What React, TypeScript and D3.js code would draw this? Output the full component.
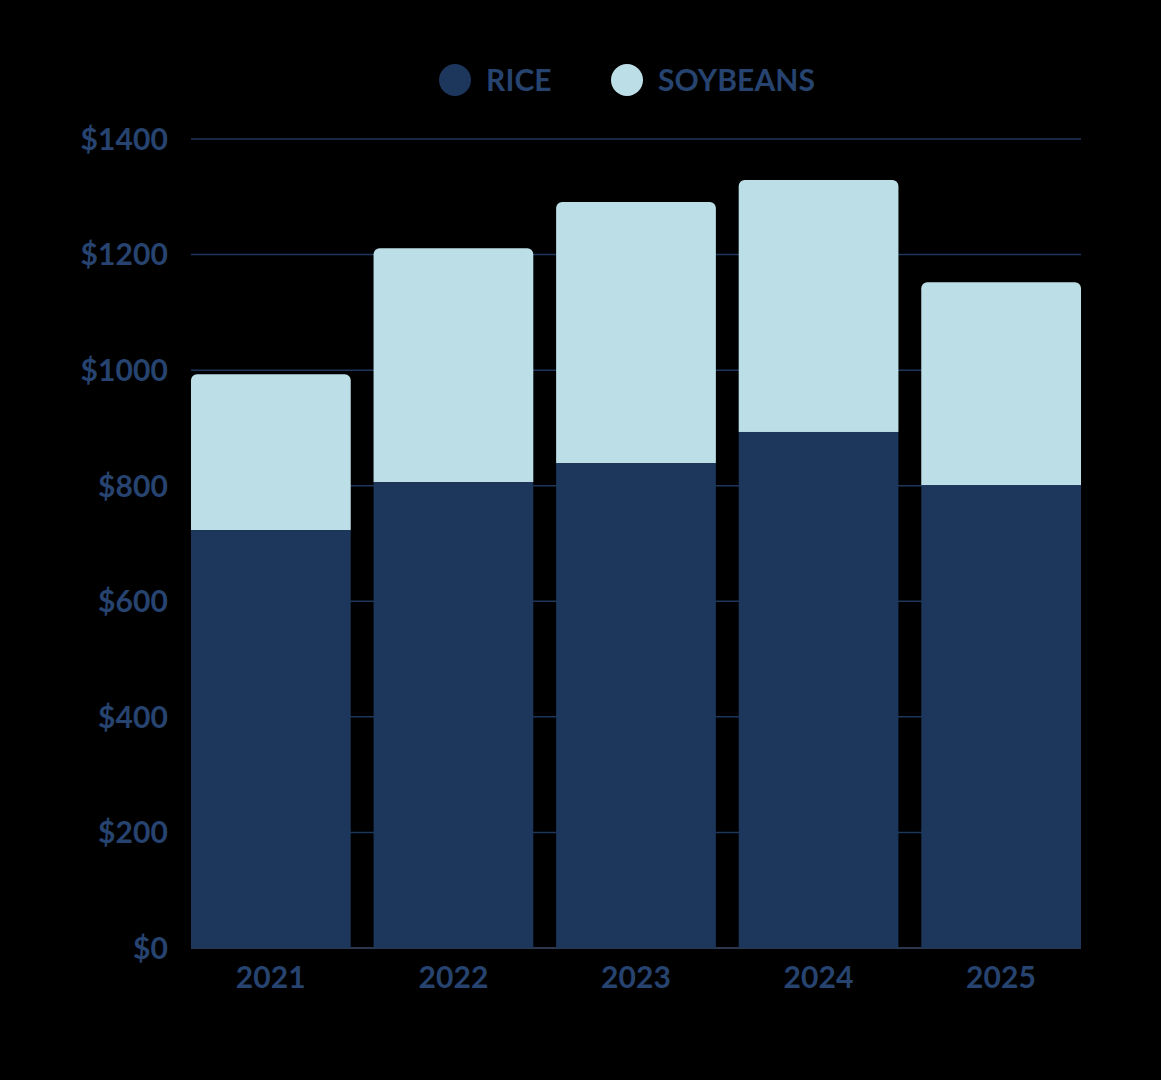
import React, { useEffect } from "react";
import * as d3 from "d3";

const years = ["2021", "2022", "2023", "2024", "2025"];
const rice = [723, 806, 839, 893, 801];
const soybeans = [270, 405, 452, 436, 351];
const yTicks = [0, 200, 400, 600, 800, 1000, 1200, 1400];
const seriesNames = ["RICE", "SOYBEANS"];

const W = 1161;
const H = 1080;
const RICE_COLOR = "#1c365c";
const SOY_COLOR = "#bcdee6";
const TEXT_COLOR = "#27436f";
const FONT = "Lato, 'Open Sans', sans-serif";
const FS = 30;
const LS = 0.1;

function topRoundedRect(x: number, y: number, w: number, h: number, r: number) {
  const p = d3.path();
  p.moveTo(x, y + h);
  p.lineTo(x, y + r);
  p.arcTo(x, y, x + r, y, r);
  p.lineTo(x + w - r, y);
  p.arcTo(x + w, y, x + w, y + r, r);
  p.lineTo(x + w, y + h);
  p.closePath();
  return p.toString();
}

export default function App() {
  useEffect(() => {
    document.body.style.margin = "0";
    document.body.style.background = "#000";
  }, []);

  const x = d3.scaleBand<string>().domain(years).range([191, 1081]).paddingInner(0.125).paddingOuter(0);
  const y = d3.scaleLinear().domain([0, 1400]).range([948, 139]);
  const bw = x.bandwidth();

  const textProps = {
    fill: TEXT_COLOR,
    fontFamily: FONT,
    fontWeight: 700,
    fontSize: FS,
    letterSpacing: LS,
  };

  return (
    <svg width={W} height={H} style={{ display: "block", background: "#000" }}>
      <rect x={0} y={0} width={W} height={H} fill="#000" />
      {yTicks.map((t) => (
        <g key={t}>
          <line x1={191} x2={1081} y1={y(t)} y2={y(t)} stroke={t === 0 ? "#3a4a66" : RICE_COLOR} strokeWidth={1.5} />
          <text x={168} y={y(t)} dy="0.36em" textAnchor="end" {...textProps}>
            {"$" + t}
          </text>
        </g>
      ))}
      {years.map((yr, i) => {
        const x0 = x(yr)!;
        const total = rice[i] + soybeans[i];
        return (
          <g key={yr}>
            <path d={topRoundedRect(x0, y(total), bw, y(rice[i]) - y(total), 6)} fill={SOY_COLOR} />
            <rect x={x0} y={y(rice[i])} width={bw} height={y(0) - y(rice[i])} fill={RICE_COLOR} />
            <text x={x0 + bw / 2} y={988} textAnchor="middle" {...textProps}>
              {yr}
            </text>
          </g>
        );
      })}
      <g>
        <circle cx={455} cy={80} r={16} fill={RICE_COLOR} />
        <text x={486} y={80} dy="0.36em" {...textProps}>
          {seriesNames[0]}
        </text>
        <circle cx={627} cy={80} r={16} fill={SOY_COLOR} />
        <text x={658} y={80} dy="0.36em" {...textProps}>
          {seriesNames[1]}
        </text>
      </g>
    </svg>
  );
}
